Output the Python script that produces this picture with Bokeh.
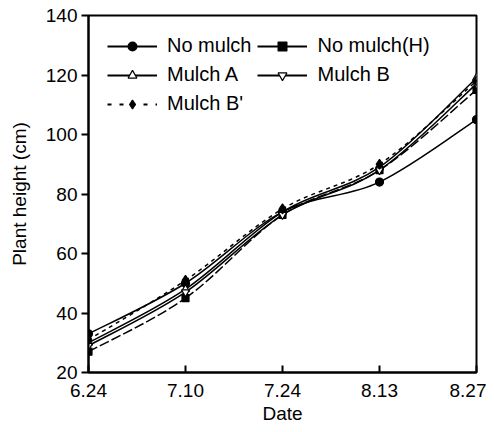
import numpy as np
from bokeh.plotting import figure
from bokeh.models import Range1d, FixedTicker, Legend, LegendItem
from bokeh.embed import file_html
from bokeh.resources import INLINE

dates = ["6.24", "7.10", "7.24", "8.13", "8.27"]
no_mulch = [33, 50, 74, 84, 105]
no_mulch_h = [27, 45, 73, 88, 115]
mulch_a = [30, 48, 74, 89, 119]
mulch_b = [29, 47, 73, 88, 117]
mulch_b2 = [31, 51, 75, 90, 118]
y_ticks = [20, 40, 60, 80, 100, 120, 140]

FONT = "Liberation Sans"
xs = list(range(len(dates)))

p = figure(width=486, height=430, output_backend="svg", toolbar_location=None,
           x_range=Range1d(0, len(dates) - 1), y_range=Range1d(20, 140),
           min_border_left=88, min_border_right=10, min_border_top=15, min_border_bottom=58)
p.grid.visible = False
p.background_fill_color = "white"
p.outline_line_color = "black"
p.outline_line_width = 2

def curve(ys, dash, width=1.5):
    n = len(xs)
    x0, y0, x1, y1, cx0, cy0, cx1, cy1 = [], [], [], [], [], [], [], []
    for i in range(n - 1):
        im = max(i - 1, 0)
        ip2 = min(i + 2, n - 1)
        x0.append(xs[i]); y0.append(ys[i])
        x1.append(xs[i + 1]); y1.append(ys[i + 1])
        cx0.append(xs[i] + (xs[i + 1] - xs[im]) / 6)
        cy0.append(ys[i] + (ys[i + 1] - ys[im]) / 6)
        cx1.append(xs[i + 1] - (xs[ip2] - xs[i]) / 6)
        cy1.append(ys[i + 1] - (ys[ip2] - ys[i]) / 6)
    p.bezier(x0=x0, y0=y0, x1=x1, y1=y1, cx0=cx0, cy0=cy0, cx1=cx1, cy1=cy1,
             line_color="black", line_width=width, line_dash=dash)

series = [
    ("No mulch", no_mulch, "circle", "black", "solid", "solid", 8),
    ("No mulch(H)", no_mulch_h, "square", "black", "10 3", "solid", 7),
    ("Mulch A", mulch_a, "triangle", "white", "solid", "solid", 8),
    ("Mulch B", mulch_b, "inverted_triangle", "white", "solid", "solid", 8),
    ("Mulch B'", mulch_b2, "diamond", "black", "4 4", "4 8", 10),
]

items = []
for name, ys, marker, fill, dash, ldash, size in series:
    curve(ys, dash)
    lr = p.line(x=xs, y=[np.nan] * len(xs), line_color="black", line_width=2, line_dash=ldash)
    sr = p.scatter(x=xs, y=ys, marker=marker, size=size, fill_color=fill,
                   line_color="black", line_width=1.2)
    items.append(LegendItem(label=name, renderers=[lr, sr]))

legend = Legend(items=items, location="top_left", ncols=2, orientation="horizontal",
                background_fill_alpha=0, border_line_alpha=0,
                label_text_font=FONT, label_text_font_size="20px",
                label_text_color="black", label_height=22,
                glyph_width=50, glyph_height=22, spacing=6,
                label_standoff=10, padding=9, margin=10)
p.add_layout(legend, "center")

p.xaxis.ticker = FixedTicker(ticks=xs)
p.xaxis.major_label_overrides = {i: d for i, d in enumerate(dates)}
p.yaxis.ticker = FixedTicker(ticks=y_ticks)
for ax in (p.xaxis, p.yaxis):
    ax.axis_line_width = 2
    ax.major_tick_line_width = 2
    ax.minor_tick_line_color = None
    ax.major_label_text_font = FONT
    ax.major_label_text_font_size = "19px"
    ax.major_label_text_color = "black"
    ax.axis_label_text_font = FONT
    ax.axis_label_text_font_size = "19px"
    ax.axis_label_text_font_style = "normal"
    ax.axis_label_text_color = "black"
p.xaxis.major_tick_in = 7
p.xaxis.major_tick_out = 0
p.yaxis.major_tick_in = 0
p.yaxis.major_tick_out = 7
p.xaxis.axis_label = "Date"
p.yaxis.axis_label = "Plant height (cm)"
p.xaxis.major_label_standoff = 11
p.yaxis.major_label_standoff = 4
p.xaxis.axis_label_standoff = 3
p.yaxis.axis_label_standoff = 13

open("out.html", "w").write(file_html(p, INLINE))
